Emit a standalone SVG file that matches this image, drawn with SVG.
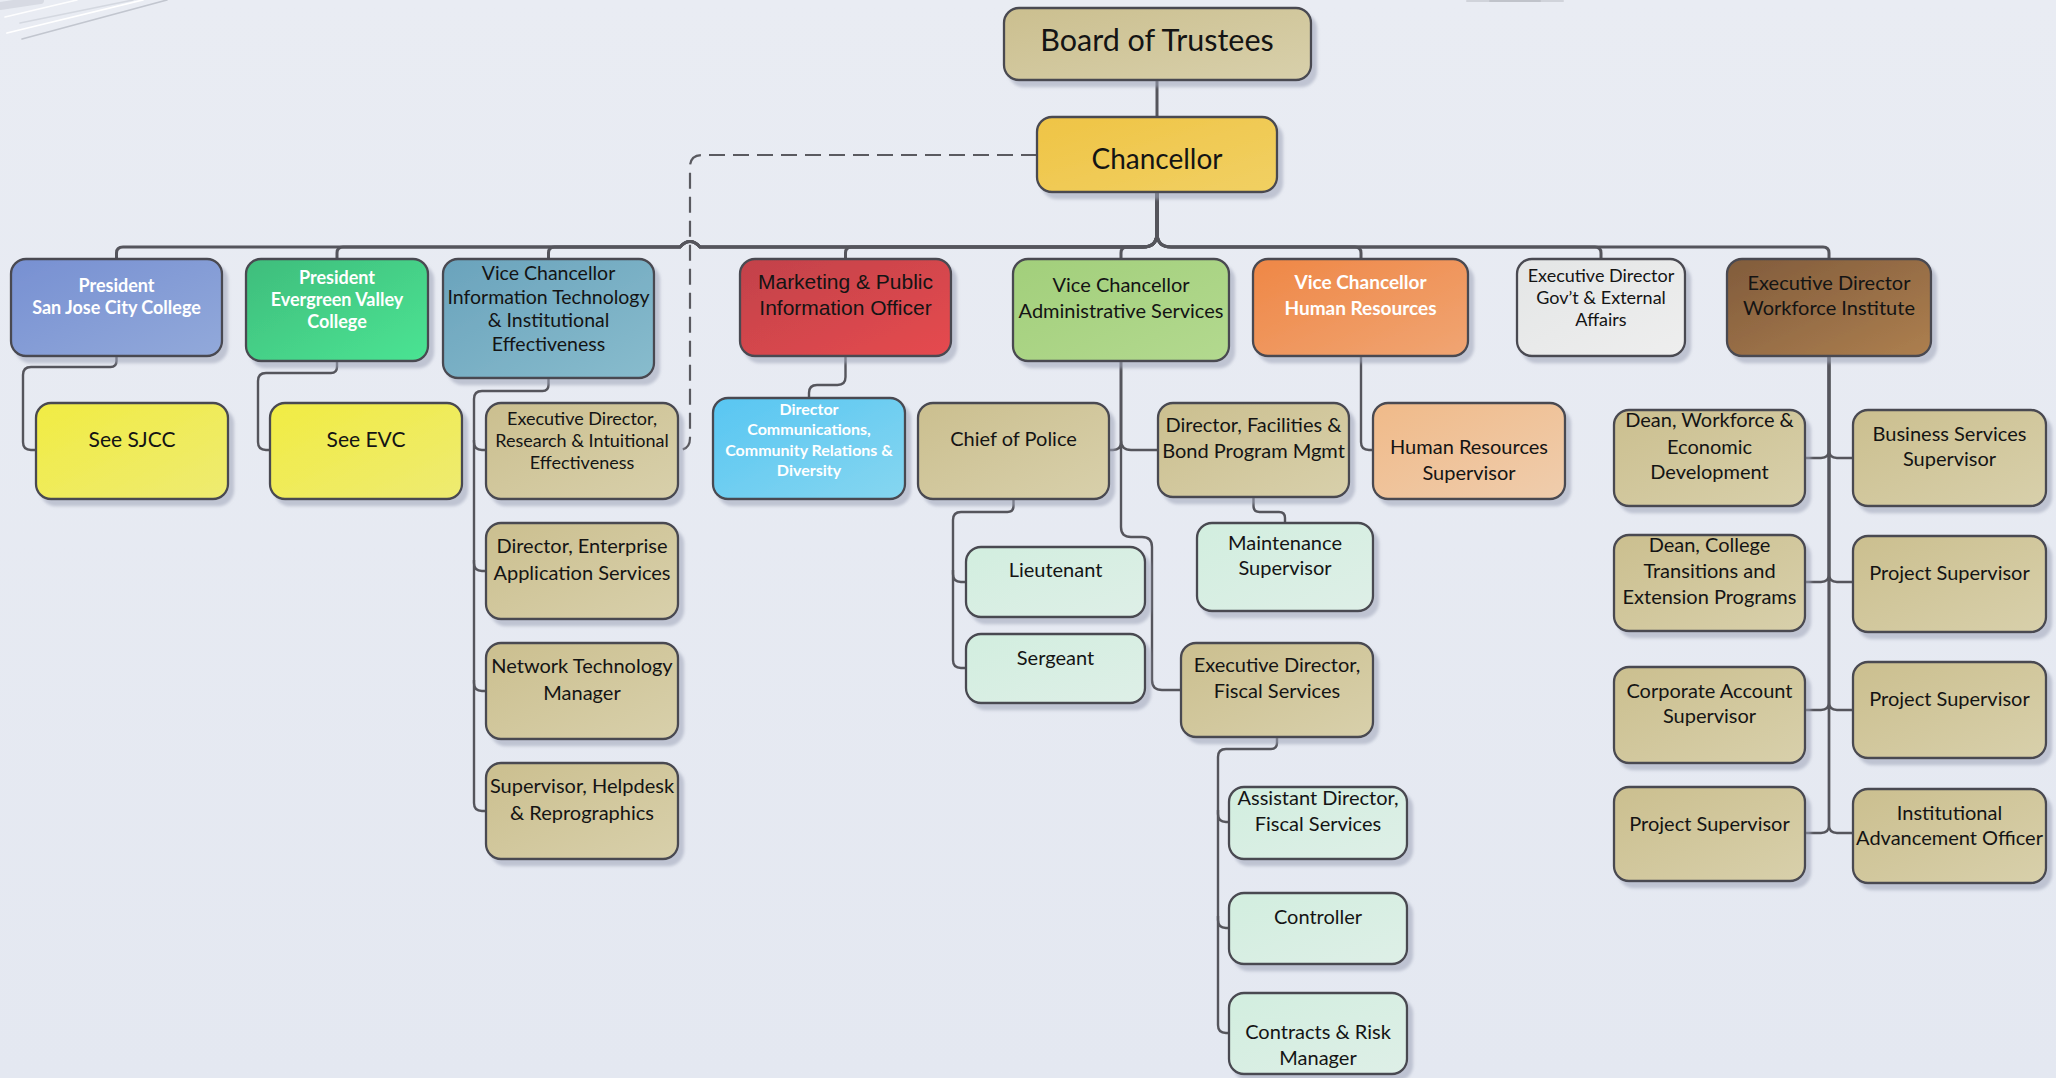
<svg xmlns="http://www.w3.org/2000/svg" width="2056" height="1078" viewBox="0 0 2056 1078">
<defs>
<linearGradient id="bg" x1="0" y1="0" x2="0" y2="1"><stop offset="0" stop-color="#e9ecf3"/><stop offset="1" stop-color="#e4e8f1"/></linearGradient>
<linearGradient id="gTan" x1="0" y1="0" x2="1" y2="1"><stop offset="0" stop-color="#cbbf8f"/><stop offset="1" stop-color="#d8d0ab"/></linearGradient>
<linearGradient id="gGold" x1="0" y1="0" x2="1" y2="1"><stop offset="0" stop-color="#efc445"/><stop offset="1" stop-color="#f1d063"/></linearGradient>
<linearGradient id="gBlue" x1="0" y1="0" x2="1" y2="1"><stop offset="0" stop-color="#7790d2"/><stop offset="1" stop-color="#92a9da"/></linearGradient>
<linearGradient id="gGreen" x1="0" y1="0" x2="1" y2="1"><stop offset="0" stop-color="#3fbd7c"/><stop offset="1" stop-color="#4be493"/></linearGradient>
<linearGradient id="gTeal" x1="0" y1="0" x2="1" y2="1"><stop offset="0" stop-color="#6aa3bc"/><stop offset="1" stop-color="#88bccd"/></linearGradient>
<linearGradient id="gRed" x1="0" y1="0" x2="1" y2="1"><stop offset="0" stop-color="#c2424a"/><stop offset="1" stop-color="#e64a4f"/></linearGradient>
<linearGradient id="gLime" x1="0" y1="0" x2="1" y2="1"><stop offset="0" stop-color="#a2cf7b"/><stop offset="1" stop-color="#b3d98f"/></linearGradient>
<linearGradient id="gOrange" x1="0" y1="0" x2="1" y2="1"><stop offset="0" stop-color="#ef8746"/><stop offset="1" stop-color="#f0a573"/></linearGradient>
<linearGradient id="gGray" x1="0" y1="0" x2="1" y2="1"><stop offset="0" stop-color="#e4e6e6"/><stop offset="1" stop-color="#eeeeee"/></linearGradient>
<linearGradient id="gBrown" x1="0" y1="0" x2="1" y2="1"><stop offset="0" stop-color="#815c3c"/><stop offset="1" stop-color="#ad7f4f"/></linearGradient>
<linearGradient id="gYellow" x1="0" y1="0" x2="1" y2="1"><stop offset="0" stop-color="#f1ec43"/><stop offset="1" stop-color="#eeeb72"/></linearGradient>
<linearGradient id="gSky" x1="0" y1="0" x2="1" y2="1"><stop offset="0" stop-color="#58c6f2"/><stop offset="1" stop-color="#86d6f0"/></linearGradient>
<linearGradient id="gMint" x1="0" y1="0" x2="1" y2="1"><stop offset="0" stop-color="#d2eedf"/><stop offset="1" stop-color="#deefe7"/></linearGradient>
<linearGradient id="gPeach" x1="0" y1="0" x2="1" y2="1"><stop offset="0" stop-color="#f0ba89"/><stop offset="1" stop-color="#efcdad"/></linearGradient>
<filter id="sh" x="-10%" y="-10%" width="130%" height="140%"><feDropShadow dx="5" dy="6" stdDeviation="1.6" flood-color="#9ea4b8" flood-opacity="0.55"/></filter>
<style>
.box{stroke:#4a4a51;stroke-width:2.3;filter:url(#sh)}
.t{font-family:Lato,"Open Sans",sans-serif;font-size:20px;fill:#141414;text-anchor:middle;dominant-baseline:central}
.s{font-size:18px}
.w{fill:#ffffff;font-weight:700}
.a{font-family:"Liberation Sans",Arial,sans-serif;font-size:21px}
.c{fill:none;stroke:#55555c;stroke-width:2.4}
.m{stroke-width:3}
.d{fill:none;stroke:#5a5a60;stroke-width:2.2;stroke-dasharray:16 8}
</style>
</defs>
<rect x="0" y="0" width="2056" height="1078" fill="url(#bg)"/>
<g id="decor" fill="none" stroke-linecap="round">
<path d="M0,6 L40,0" stroke="#cfd3dc" stroke-width="8" opacity="0.7"/>
<path d="M5,17 L77,0" stroke="#ffffff" stroke-width="1.6" opacity="0.9"/>
<path d="M20,23 L133,0" stroke="#d4d8e0" stroke-width="1.6"/>
<path d="M7,33 L143,0" stroke="#ffffff" stroke-width="1.8"/>
<path d="M22,39 L167,0" stroke="#c2c6cf" stroke-width="1.6"/>
<path d="M1467,1 L1563,1" stroke="#d0d3da" stroke-width="2"/>
<path d="M1490,1 L1540,1" stroke="#c0c3ca" stroke-width="2"/>
</g>

<g id="connectors">
<path class="c m" d="M1157,80 V117"/>
<path class="c m" d="M1157,192 V233 Q1157,247 1143,247 H700 Q690,236 680,247 H123 Q116.5,247 116.5,253 V259"/>
<path class="c m" d="M1157,192 V233 Q1157,247 1143,247 H700 Q690,236 680,247 H343 Q337,247 337,253 V259"/>
<path class="c m" d="M1157,192 V233 Q1157,247 1143,247 H700 Q690,236 680,247 H554.5 Q548.5,247 548.5,253 V259"/>
<path class="c m" d="M1157,192 V233 Q1157,247 1143,247 H851.5 Q845.5,247 845.5,253 V259"/>
<path class="c m" d="M1157,192 V233 Q1157,247 1143,247 H1127 Q1121,247 1121,253 V259"/>
<path class="c m" d="M1157,192 V233 Q1157,247 1171,247 H1355 Q1361,247 1361,253 V259"/>
<path class="c m" d="M1157,192 V233 Q1157,247 1171,247 H1595 Q1601,247 1601,253 V259"/>
<path class="c m" d="M1157,192 V233 Q1157,247 1171,247 H1823 Q1829,247 1829,253 V259"/>
<path class="d" d="M1037,155 H702 Q690,155 690,167 V438 Q690,450 678,450"/>
<path class="c" d="M116.5,356 V361 Q116.5,367 110.5,367 H31 Q23,367 23,375 V442 Q23,450 31,450 H36"/>
<path class="c" d="M337,361 V367 Q337,373 331,373 H266 Q258,373 258,381 V442 Q258,450 266,450 H270"/>
<path class="c" d="M548.5,378 V385 Q548.5,391 542.5,391 H482 Q474,391 474,399 V803 Q474,811 482,811 H486"/>
<path class="c" d="M474,440 V442 Q474,450 482,450 H486"/>
<path class="c" d="M474,560 V563 Q474,571 482,571 H486"/>
<path class="c" d="M474,680 V683 Q474,691 482,691 H486"/>
<path class="c" d="M845.5,356 V377 Q845.5,385 837.5,385 H817 Q809,385 809,393 V398"/>
<path class="c" d="M1121,361 V442 Q1121,450 1113,450 H1109"/>
<path class="c" d="M1121,361 V440 Q1121,450 1131,450 H1158"/>
<path class="c" d="M1121,361 V527 Q1121,537 1131,537 H1142 Q1152,537 1152,547 V680 Q1152,690 1162,690 H1181"/>
<path class="c" d="M1013.5,499 V506 Q1013.5,512 1007.5,512 H961 Q953,512 953,520 V660 Q953,668 961,668 H966"/>
<path class="c" d="M953,570 V574 Q953,582 961,582 H966"/>
<path class="c" d="M1253.5,497 V506 Q1253.5,512 1259.5,512 H1279 Q1285,512 1285,518 V523"/>
<path class="c" d="M1361,356 V442 Q1361,450 1369,450 H1373"/>
<path class="c" d="M1277,737 V743 Q1277,749 1271,749 H1226 Q1218,749 1218,757 V1025 Q1218,1033 1226,1033 H1229"/>
<path class="c" d="M1218,810 V814 Q1218,822 1226,822 H1229"/>
<path class="c" d="M1218,916 V920 Q1218,928 1226,928 H1229"/>
<path class="c" d="M1829,356 V450 Q1829,458 1821,458 H1805"/>
<path class="c" d="M1829,356 V450 Q1829,458 1837,458 H1853"/>
<path class="c" d="M1829,356 V574 Q1829,582 1821,582 H1805"/>
<path class="c" d="M1829,356 V574 Q1829,582 1837,582 H1853"/>
<path class="c" d="M1829,356 V702 Q1829,710 1821,710 H1805"/>
<path class="c" d="M1829,356 V702 Q1829,710 1837,710 H1853"/>
<path class="c" d="M1829,356 V825 Q1829,833 1821,833 H1805"/>
<path class="c" d="M1829,356 V825 Q1829,833 1837,833 H1853"/>
</g>

<g id="n-board"><rect class="box" x="1004" y="8" width="307" height="72" rx="15" fill="url(#gTan)"/><text class="t" x="1157" y="39" style="font-size:30.5px">Board of Trustees</text></g>
<g id="n-chancellor"><rect class="box" x="1037" y="117" width="240" height="75" rx="15" fill="url(#gGold)"/><text class="t" x="1157" y="158" style="font-size:28px">Chancellor</text></g>

<g id="n-sjcc"><rect class="box" x="11" y="259" width="211" height="97" rx="15" fill="url(#gBlue)"/><text class="t s w"><tspan x="116.5" y="285">President</tspan><tspan x="116.5" y="307">San Jose City College</tspan></text></g>
<g id="n-evc"><rect class="box" x="246" y="259" width="182" height="102" rx="15" fill="url(#gGreen)"/><text class="t s w"><tspan x="337" y="277">President</tspan><tspan x="337" y="299">Evergreen Valley</tspan><tspan x="337" y="321">College</tspan></text></g>
<g id="n-vcit"><rect class="box" x="443" y="259" width="211" height="119" rx="15" fill="url(#gTeal)"/><text class="t" style="font-size:19.5px"><tspan x="548.5" y="272">Vice Chancellor</tspan><tspan x="548.5" y="296">Information Technology</tspan><tspan x="548.5" y="319">&amp; Institutional</tspan><tspan x="548.5" y="343">Effectiveness</tspan></text></g>
<g id="n-mkt"><rect class="box" x="740" y="259" width="211" height="97" rx="15" fill="url(#gRed)"/><text class="t a"><tspan x="845.5" y="281">Marketing &amp; Public</tspan><tspan x="845.5" y="307">Information Officer</tspan></text></g>
<g id="n-vcadmin"><rect class="box" x="1013" y="259" width="216" height="102" rx="15" fill="url(#gLime)"/><text class="t"><tspan x="1121" y="284">Vice Chancellor</tspan><tspan x="1121" y="310">Administrative Services</tspan></text></g>
<g id="n-vchr"><rect class="box" x="1253" y="259" width="215" height="97" rx="15" fill="url(#gOrange)"/><text class="t w" style="font-size:19px"><tspan x="1360.5" y="281">Vice Chancellor</tspan><tspan x="1360.5" y="307">Human Resources</tspan></text></g>
<g id="n-govt"><rect class="box" x="1517" y="259" width="168" height="97" rx="15" fill="url(#gGray)"/><text class="t s"><tspan x="1601" y="275">Executive Director</tspan><tspan x="1601" y="297">Gov’t &amp; External</tspan><tspan x="1601" y="319">Affairs</tspan></text></g>
<g id="n-wfi"><rect class="box" x="1727" y="259" width="204" height="97" rx="15" fill="url(#gBrown)"/><text class="t"><tspan x="1829" y="282">Executive Director</tspan><tspan x="1829" y="307">Workforce Institute</tspan></text></g>

<g id="n-seesjcc"><rect class="box" x="36" y="403" width="192" height="96" rx="15" fill="url(#gYellow)"/><text class="t" x="132" y="438" style="font-size:21px">See SJCC</text></g>
<g id="n-seeevc"><rect class="box" x="270" y="403" width="192" height="96" rx="15" fill="url(#gYellow)"/><text class="t" x="366" y="438" style="font-size:21px">See EVC</text></g>

<g id="n-itres"><rect class="box" x="486" y="403" width="192" height="96" rx="15" fill="url(#gTan)"/><text class="t s"><tspan x="582" y="418">Executive Director,</tspan><tspan x="582" y="440">Research &amp; Intuitional</tspan><tspan x="582" y="462">Effectiveness</tspan></text></g>
<g id="n-itent"><rect class="box" x="486" y="523" width="192" height="96" rx="15" fill="url(#gTan)"/><text class="t"><tspan x="582" y="545">Director, Enterprise</tspan><tspan x="582" y="572">Application Services</tspan></text></g>
<g id="n-itnet"><rect class="box" x="486" y="643" width="192" height="96" rx="15" fill="url(#gTan)"/><text class="t"><tspan x="582" y="665">Network Technology</tspan><tspan x="582" y="692">Manager</tspan></text></g>
<g id="n-ithelp"><rect class="box" x="486" y="763" width="192" height="96" rx="15" fill="url(#gTan)"/><text class="t"><tspan x="582" y="785">Supervisor, Helpdesk</tspan><tspan x="582" y="812">&amp; Reprographics</tspan></text></g>

<g id="n-dircomm"><rect class="box" x="713" y="398" width="192" height="101" rx="15" fill="url(#gSky)"/><text class="t w" style="font-size:16px"><tspan x="809" y="408">Director</tspan><tspan x="809" y="428">Communications,</tspan><tspan x="809" y="449">Community Relations &amp;</tspan><tspan x="809" y="469">Diversity</tspan></text></g>

<g id="n-chief"><rect class="box" x="918" y="403" width="191" height="96" rx="15" fill="url(#gTan)"/><text class="t" x="1013.5" y="438">Chief of Police</text></g>
<g id="n-lt"><rect class="box" x="966" y="547" width="179" height="70" rx="15" fill="url(#gMint)"/><text class="t" x="1055.5" y="569">Lieutenant</text></g>
<g id="n-sgt"><rect class="box" x="966" y="634" width="179" height="69" rx="15" fill="url(#gMint)"/><text class="t" x="1055.5" y="657">Sergeant</text></g>
<g id="n-fac"><rect class="box" x="1158" y="403" width="191" height="94" rx="15" fill="url(#gTan)"/><text class="t"><tspan x="1253.5" y="424">Director, Facilities &amp;</tspan><tspan x="1253.5" y="450">Bond Program Mgmt</tspan></text></g>
<g id="n-maint"><rect class="box" x="1197" y="523" width="176" height="88" rx="15" fill="url(#gMint)"/><text class="t"><tspan x="1285" y="542">Maintenance</tspan><tspan x="1285" y="567">Supervisor</tspan></text></g>
<g id="n-fiscal"><rect class="box" x="1181" y="643" width="192" height="94" rx="15" fill="url(#gTan)"/><text class="t"><tspan x="1277" y="664">Executive Director,</tspan><tspan x="1277" y="690">Fiscal Services</tspan></text></g>
<g id="n-asst"><rect class="box" x="1229" y="787" width="178" height="72" rx="15" fill="url(#gMint)"/><text class="t"><tspan x="1318" y="797">Assistant Director,</tspan><tspan x="1318" y="823">Fiscal Services</tspan></text></g>
<g id="n-ctrl"><rect class="box" x="1229" y="893" width="178" height="71" rx="15" fill="url(#gMint)"/><text class="t" x="1318" y="916">Controller</text></g>
<g id="n-contr"><rect class="box" x="1229" y="993" width="178" height="81" rx="15" fill="url(#gMint)"/><text class="t"><tspan x="1318" y="1031">Contracts &amp; Risk</tspan><tspan x="1318" y="1057">Manager</tspan></text></g>

<g id="n-hrsup"><rect class="box" x="1373" y="403" width="192" height="96" rx="15" fill="url(#gPeach)"/><text class="t"><tspan x="1469" y="446">Human Resources</tspan><tspan x="1469" y="472">Supervisor</tspan></text></g>

<g id="n-deanwf"><rect class="box" x="1614" y="410" width="191" height="96" rx="15" fill="url(#gTan)"/><text class="t"><tspan x="1709.5" y="419">Dean, Workforce &amp;</tspan><tspan x="1709.5" y="446">Economic</tspan><tspan x="1709.5" y="471">Development</tspan></text></g>
<g id="n-deancol"><rect class="box" x="1614" y="535" width="191" height="96" rx="15" fill="url(#gTan)"/><text class="t"><tspan x="1709.5" y="544">Dean, College</tspan><tspan x="1709.5" y="570">Transitions and</tspan><tspan x="1709.5" y="596">Extension Programs</tspan></text></g>
<g id="n-corp"><rect class="box" x="1614" y="667" width="191" height="96" rx="15" fill="url(#gTan)"/><text class="t"><tspan x="1709.5" y="690">Corporate Account</tspan><tspan x="1709.5" y="715">Supervisor</tspan></text></g>
<g id="n-projl"><rect class="box" x="1614" y="787" width="191" height="94" rx="15" fill="url(#gTan)"/><text class="t" x="1709.5" y="823">Project Supervisor</text></g>
<g id="n-bus"><rect class="box" x="1853" y="410" width="193" height="96" rx="15" fill="url(#gTan)"/><text class="t"><tspan x="1949.5" y="433">Business Services</tspan><tspan x="1949.5" y="458">Supervisor</tspan></text></g>
<g id="n-proj1"><rect class="box" x="1853" y="536" width="193" height="96" rx="15" fill="url(#gTan)"/><text class="t" x="1949.5" y="572">Project Supervisor</text></g>
<g id="n-proj2"><rect class="box" x="1853" y="662" width="193" height="96" rx="15" fill="url(#gTan)"/><text class="t" x="1949.5" y="698">Project Supervisor</text></g>
<g id="n-inst"><rect class="box" x="1853" y="789" width="193" height="94" rx="15" fill="url(#gTan)"/><text class="t"><tspan x="1949.5" y="812">Institutional</tspan><tspan x="1949.5" y="837">Advancement Officer</tspan></text></g>
</svg>
